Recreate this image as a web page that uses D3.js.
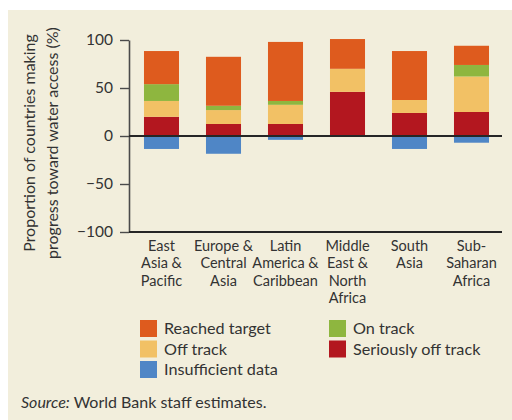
<!DOCTYPE html>
<html>
<head>
<meta charset="utf-8">
<script src="https://cdn.jsdelivr.net/npm/d3@7"></script>
<style>
  html, body { margin: 0; padding: 0; background: #ffffff; }
  svg { display: block; }
  text { font-family: Lato, "Open Sans", sans-serif; fill: #333333; }
</style>
</head>
<body>
<svg id="chart" width="512" height="420"></svg>
<script>
// Regions along the x axis (line breaks as printed)
const categories = [
  "East\nAsia &\nPacific",
  "Europe &\nCentral\nAsia",
  "Latin\nAmerica &\nCaribbean",
  "Middle\nEast &\nNorth\nAfrica",
  "South\nAsia",
  "Sub-\nSaharan\nAfrica"
];

// Share of countries (%) in each progress group
const seriouslyOffTrack = [20, 12.5, 12.5, 46, 24, 25];
const offTrack          = [16.5, 14.5, 20, 24, 13.5, 37];
const onTrack           = [17.5, 4.5, 4, 0, 0, 12];
const reachedTarget     = [34.5, 51, 61.5, 31, 51, 20];
const insufficientData  = [13.5, 18.5, 4, 0, 13.5, 7];

const yTicks = [100, 50, 0, -50, -100];

const seriesKeys   = ["serious", "off", "on", "reached", "insufficient"];
const seriesLabels = {
  reached: "Reached target",
  on: "On track",
  off: "Off track",
  serious: "Seriously off track",
  insufficient: "Insufficient data"
};
const colors = {
  reached: "#de5b1e",
  on: "#8eb63f",
  off: "#f2c165",
  serious: "#b3171f",
  insufficient: "#4f86c6"
};

// Insufficient data hangs below zero
const rows = categories.map((c, i) => ({
  category: c,
  serious: seriouslyOffTrack[i],
  off: offTrack[i],
  on: onTrack[i],
  reached: reachedTarget[i],
  insufficient: -insufficientData[i]
}));

const svg = d3.select("#chart");

// panel background
svg.append("rect")
  .attr("x", 8).attr("y", 10)
  .attr("width", 504).attr("height", 410)
  .attr("fill", "#f2eedc");

const x = d3.scaleBand()
  .domain(categories)
  .range([130.5, 502.5])
  .paddingInner(0.435)
  .paddingOuter(0.2175);

const y = d3.scaleLinear()
  .domain([-100, 100])
  .range([232, 40]);

const stack = d3.stack()
  .keys(seriesKeys)
  .offset(d3.stackOffsetDiverging);
const stacked = stack(rows);

svg.append("g")
  .selectAll("g")
  .data(stacked)
  .join("g")
  .attr("fill", d => colors[d.key])
  .selectAll("rect")
  .data(d => d)
  .join("rect")
  .attr("x", d => x(d.data.category))
  .attr("width", x.bandwidth())
  .attr("y", d => y(Math.max(d[0], d[1])))
  .attr("height", d => Math.abs(y(d[0]) - y(d[1])));

// y axis
const yAxis = svg.append("g")
  .attr("transform", "translate(129,0)")
  .call(d3.axisLeft(y).tickValues(yTicks).tickSize(9).tickSizeOuter(0).tickPadding(7)
    .tickFormat(d => d < 0 ? "\u2212" + Math.abs(d) : d));
yAxis.select(".domain").attr("stroke", "#4a4a4a").attr("stroke-width", 1.6);
yAxis.selectAll(".tick line").attr("stroke", "#4a4a4a").attr("stroke-width", 1.4);
yAxis.selectAll(".tick text")
  .style("font-family", "Lato, sans-serif")
  .attr("font-size", 15.5)
  .attr("fill", "#333333");

// zero line and base line
[0, -100].forEach(v => {
  svg.append("line")
    .attr("x1", 129).attr("x2", 502)
    .attr("y1", y(v)).attr("y2", y(v))
    .attr("stroke", "#262626")
    .attr("stroke-width", 2);
});

// category labels
const catG = svg.append("g");
categories.forEach(c => {
  const t = catG.append("text")
    .attr("text-anchor", "middle")
    .attr("font-size", 14.5)
    .attr("x", x(c) + x.bandwidth() / 2)
    .attr("y", 251);
  c.split("\n").forEach((line, i) => {
    t.append("tspan")
      .attr("x", x(c) + x.bandwidth() / 2)
      .attr("dy", i === 0 ? 0 : 17.3)
      .text(line);
  });
});

// y axis title
const title = svg.append("text")
  .attr("text-anchor", "middle")
  .attr("font-size", 16)
  .attr("transform", "translate(0,143) rotate(-90)");
title.append("tspan").attr("x", 0).attr("y", 35).text("Proportion of countries making");
title.append("tspan").attr("x", 0).attr("y", 58).text("progress toward water access (%)");

// legend
const legendItems = [
  { key: "reached", x: 140, y: 320 },
  { key: "on", x: 329, y: 320 },
  { key: "off", x: 140, y: 340.5 },
  { key: "serious", x: 329, y: 340.5 },
  { key: "insufficient", x: 140, y: 361 }
];
const lg = svg.append("g").selectAll("g")
  .data(legendItems)
  .join("g")
  .attr("transform", d => `translate(${d.x},${d.y})`);
lg.append("rect")
  .attr("width", 17).attr("height", 17)
  .attr("fill", d => colors[d.key]);
lg.append("text")
  .attr("x", 24).attr("y", 14)
  .attr("font-size", 16.2)
  .text(d => seriesLabels[d.key]);

// source note
const src = svg.append("text")
  .attr("x", 21).attr("y", 408)
  .attr("font-size", 16)
  .attr("fill", "#404040");
src.append("tspan").attr("font-style", "italic").text("Source:");
src.append("tspan").text(" World Bank staff estimates.");
</script>
</body>
</html>
